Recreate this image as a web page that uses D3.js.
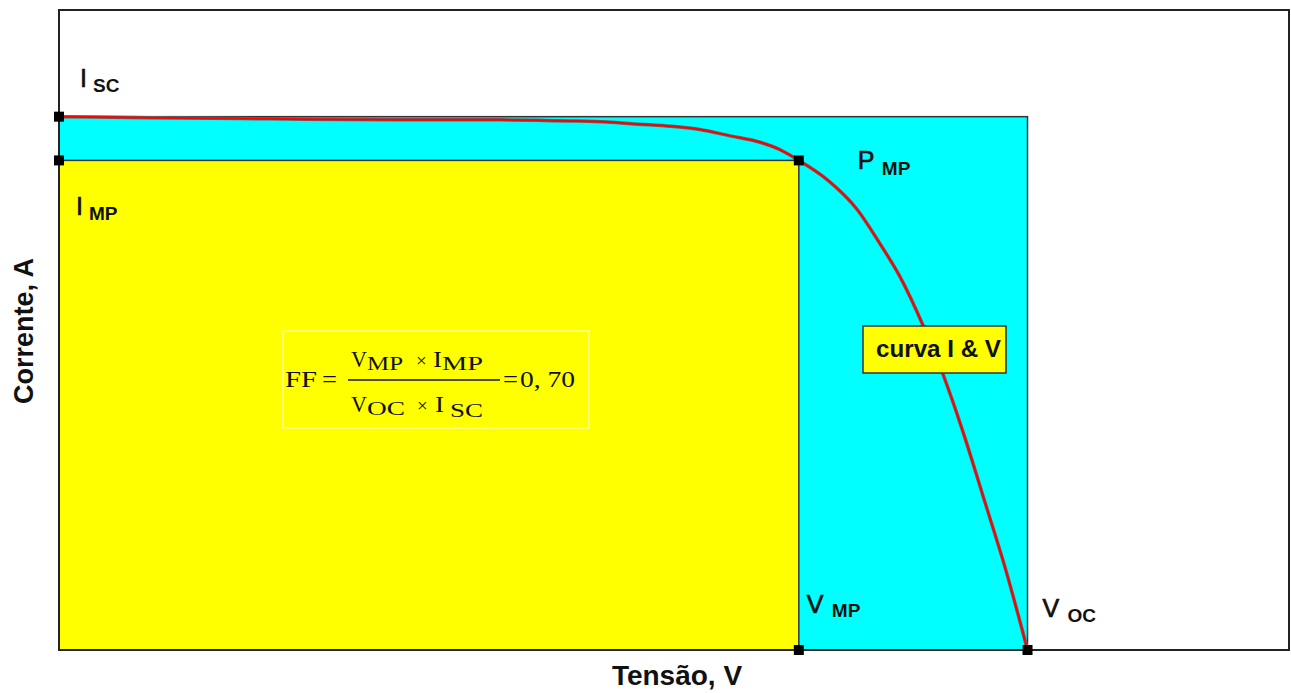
<!DOCTYPE html>
<html>
<head>
<meta charset="utf-8">
<script src="https://cdn.jsdelivr.net/npm/d3@7"></script>
<style>
  html, body { margin: 0; padding: 0; background: #fff; }
  svg { display: block; }
</style>
</head>
<body>
<svg id="chart" width="1291" height="693"></svg>
<script>
// ---- data ----
const xDomain = [0, 27];      // Tensão, V
const yDomain = [0, 6];       // Corrente, A
const voltage = [0.00, 2.00, 4.63, 7.49, 9.68, 11.24, 12.03, 12.73, 13.43, 14.07, 14.73, 15.39, 15.83, 16.24, 16.86, 17.52, 18.02, 18.46, 18.97, 19.40, 19.84, 20.33, 20.77, 21.26];
const current = [5.00, 4.99, 4.98, 4.97, 4.97, 4.96, 4.95, 4.93, 4.91, 4.88, 4.82, 4.76, 4.69, 4.59, 4.41, 4.13, 3.81, 3.50, 3.04, 2.59, 2.05, 1.38, 0.77, 0.00];
const Isc = 5.00, Imp = 4.59, Vmp = 16.24, Voc = 21.26;
const keyV = [0, 0, Vmp, Vmp, Voc];
const keyI = [Isc, Imp, Imp, 0, 0];
const labelMain = ["I", "I", "P", "V", "V"];
const labelSub = ["SC", "MP", "MP", "MP", "OC"];
const xTitle = "Tensão, V";
const yTitle = "Corrente, A";
const curveLabel = "curva I & V";
const ffValue = "0, 70";

// ---- layout ----
const svg = d3.select("#chart");
const x = d3.scaleLinear().domain(xDomain).range([59, 1289]);
const y = d3.scaleLinear().domain(yDomain).range([650, 10]);

// outer frame
svg.append("rect")
  .attr("x", x(xDomain[0])).attr("y", y(yDomain[1]))
  .attr("width", x(xDomain[1]) - x(xDomain[0]))
  .attr("height", y(yDomain[0]) - y(yDomain[1]))
  .attr("fill", "#fff").attr("stroke", "#222").attr("stroke-width", 2);

// cyan rectangle Voc x Isc
svg.append("rect")
  .attr("x", x(0)).attr("y", y(Isc))
  .attr("width", x(Voc) - x(0)).attr("height", y(0) - y(Isc))
  .attr("fill", "#00ffff").attr("stroke", "#333").attr("stroke-width", 1.5);

// yellow rectangle Vmp x Imp
svg.append("rect")
  .attr("x", x(0)).attr("y", y(Imp))
  .attr("width", x(Vmp) - x(0)).attr("height", y(0) - y(Imp))
  .attr("fill", "#ffff00").attr("stroke", "#333").attr("stroke-width", 1.5);

// frame left/bottom edges on top
svg.append("line").attr("x1", x(0)).attr("x2", x(0)).attr("y1", y(yDomain[1])).attr("y2", y(0))
  .attr("stroke", "#222").attr("stroke-width", 2);
svg.append("line").attr("x1", x(0)).attr("x2", x(xDomain[1])).attr("y1", y(0)).attr("y2", y(0))
  .attr("stroke", "#222").attr("stroke-width", 2);

// formula box
svg.append("rect").attr("x", 283).attr("y", 331).attr("width", 306).attr("height", 97)
  .attr("fill", "none").attr("stroke", "#ffffc4").attr("stroke-width", 1.2);

const serif = "'Liberation Serif', 'Times New Roman', serif";
const f = svg.append("g").attr("font-family", serif).attr("fill", "#111");
function ft(xp, yp, size, txt, len) {
  const t = f.append("text").attr("x", xp).attr("y", yp).attr("font-size", size).text(txt);
  if (len) t.attr("textLength", len).attr("lengthAdjust", "spacingAndGlyphs");
  return t;
}
ft(285, 387, 23, "FF", 32);
ft(322, 387, 23, "=", 15);
f.append("line").attr("x1", 348).attr("x2", 500).attr("y1", 380).attr("y2", 380).attr("stroke", "#111").attr("stroke-width", 1.5);
// numerator
ft(351, 367, 23, "V", 16);
ft(367, 370, 19, "MP", 36);
ft(416, 367, 19, "×");
ft(433, 367, 23, "I", 9);
ft(442, 370, 19, "MP", 41);
// denominator
ft(351, 412, 23, "V", 16);
ft(367, 415, 19, "OC", 38);
ft(417, 412, 19, "×");
ft(435, 412, 23, "I", 9);
ft(450, 417, 19, "SC", 33);
ft(503, 387, 23, "=", 15);
ft(520, 387, 23, ffValue, 55);

// I-V curve
const pts = voltage.map((v, i) => [v, current[i]]);
const line = d3.line().x(d => x(d[0])).y(d => y(d[1])).curve(d3.curveMonotoneX);
svg.append("path").datum(pts).attr("d", line)
  .attr("fill", "none").attr("stroke", "#666").attr("stroke-width", 3.5);
svg.append("path").datum(pts).attr("d", line)
  .attr("fill", "none").attr("stroke", "#ff0000").attr("stroke-width", 2);

// curve label box
const sans = "'Liberation Sans', Arial, sans-serif";
svg.append("rect").attr("x", 863).attr("y", 326).attr("width", 143).attr("height", 47)
  .attr("fill", "#ffff00").attr("stroke", "#333").attr("stroke-width", 1.5);
svg.append("text").attr("x", 876).attr("y", 357).attr("font-family", sans)
  .attr("font-weight", "bold").attr("font-size", 23).attr("fill", "#111")
  .attr("textLength", 125).attr("lengthAdjust", "spacingAndGlyphs").text(curveLabel);

// key points
svg.selectAll("rect.kp").data(keyV).enter().append("rect").attr("class", "kp")
  .attr("x", (d) => x(d) - 5).attr("y", (d, i) => y(keyI[i]) - 5)
  .attr("width", 10).attr("height", 10).attr("fill", "#000");

// key point labels (offsets relative to points)
const offs = [[21, -30, 13, 5], [17, 55, 13, 5], [59, 9, 24, 6], [8, -37, 25, 4], [15, -33, 25, 5]];
labelMain.forEach((m, i) => {
  const px = x(keyV[i]) + offs[i][0], py = y(keyI[i]) + offs[i][1];
  const t = svg.append("text").attr("x", px).attr("y", py).attr("font-family", sans).attr("fill", "#111");
  t.append("tspan").attr("font-size", 25).attr("stroke", "#111").attr("stroke-width", 0.7).text(m);
  t.append("tspan").attr("x", px + offs[i][2]).attr("dy", offs[i][3]).attr("font-size", 19)
    .attr("font-weight", "bold").text(labelSub[i]);
});

// axis titles
svg.append("text").attr("x", 677).attr("y", 685).attr("text-anchor", "middle")
  .attr("font-family", sans).attr("font-weight", "bold").attr("font-size", 28).attr("fill", "#111").text(xTitle);
svg.append("text").attr("transform", "translate(33,331) rotate(-90)").attr("text-anchor", "middle")
  .attr("font-family", sans).attr("font-weight", "bold").attr("font-size", 27).attr("fill", "#111").text(yTitle);
</script>
</body>
</html>
